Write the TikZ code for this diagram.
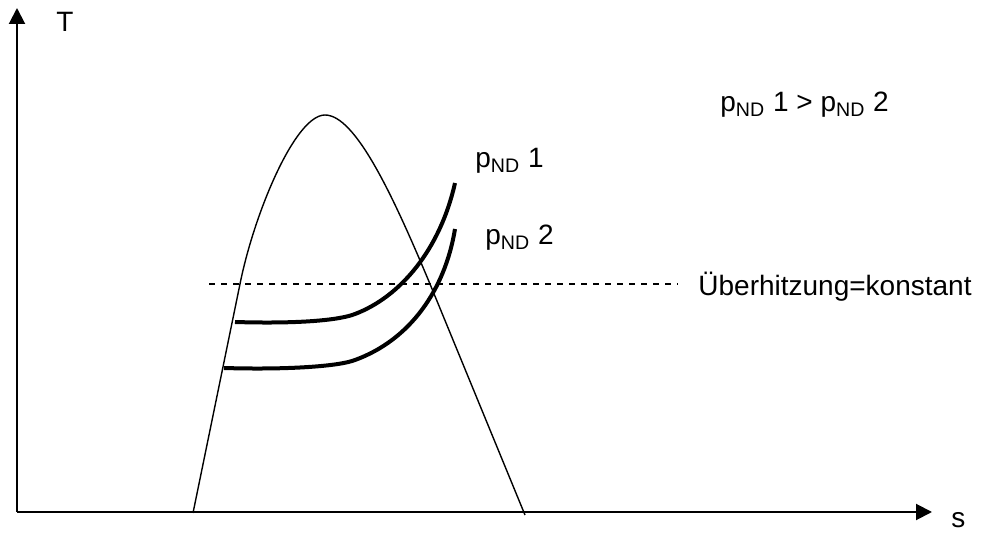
\documentclass[tikz,border=0pt]{standalone}
\usepackage{fontspec}
\setmainfont{Liberation Sans}
\usetikzlibrary{arrows.meta}

\begin{document}
\begin{tikzpicture}[x=0.5pt,y=-0.5pt]
\tikzstyle{every node}=[inner sep=0pt,anchor=base west,font=\fontsize{14}{16}\selectfont]
\tikzstyle{axis}=[-{Triangle[length=8pt,width=8pt]},line width=1pt]
\tikzstyle{dome}=[line width=0.7pt]
\tikzstyle{isobar}=[line width=2pt]
\useasboundingbox (0,0) rectangle (986,533);

\coordinate (O) at (17,512);
\coordinate (Ttip) at (17,8);
\coordinate (stip) at (932,512);
\draw[axis] (O)--(Ttip);
\draw[axis] (O)--(stip);
\node (T) at (56,32) {T};
\node (s) at (951,528) {s};

% Nassdampfgebiet
\coordinate (l0) at (193,513);
\coordinate (l1) at (240,284);
\coordinate (top) at (325,115);
\coordinate (r1) at (430,284);
\coordinate (r0) at (525,515);
\draw[dome] (l0) -- (l1) .. controls (254,214) and (295,115) .. (top) .. controls (355,115) and (392,193) .. (r1) -- (r0);

\coordinate (d1) at (209,284);
\coordinate (d2) at (678,284);
\draw[dashed,line width=0.7pt] (d1)--(d2);
\node (ueber) at (698,296) {Überhitzung=konstant};

\coordinate (a1) at (235,322);
\coordinate (b1) at (455,183);
\coordinate (a2) at (224,368);
\coordinate (b2) at (455,229);
\draw[isobar] (a1) .. controls (300,324) and (340,320) .. (355,314) .. controls (400,297) and (440,250) .. (b1);
\draw[isobar] (a2) .. controls (290,370) and (340,366) .. (355,360) .. controls (410,340) and (445,290) .. (b2);

\node (p1) at (475,168) {p\textsubscript{ND} 1};
\node (p2) at (485,245) {p\textsubscript{ND} 2};
\node (cmp) at (720,112) {p\textsubscript{ND} 1 > p\textsubscript{ND} 2};
\end{tikzpicture}
\end{document}
